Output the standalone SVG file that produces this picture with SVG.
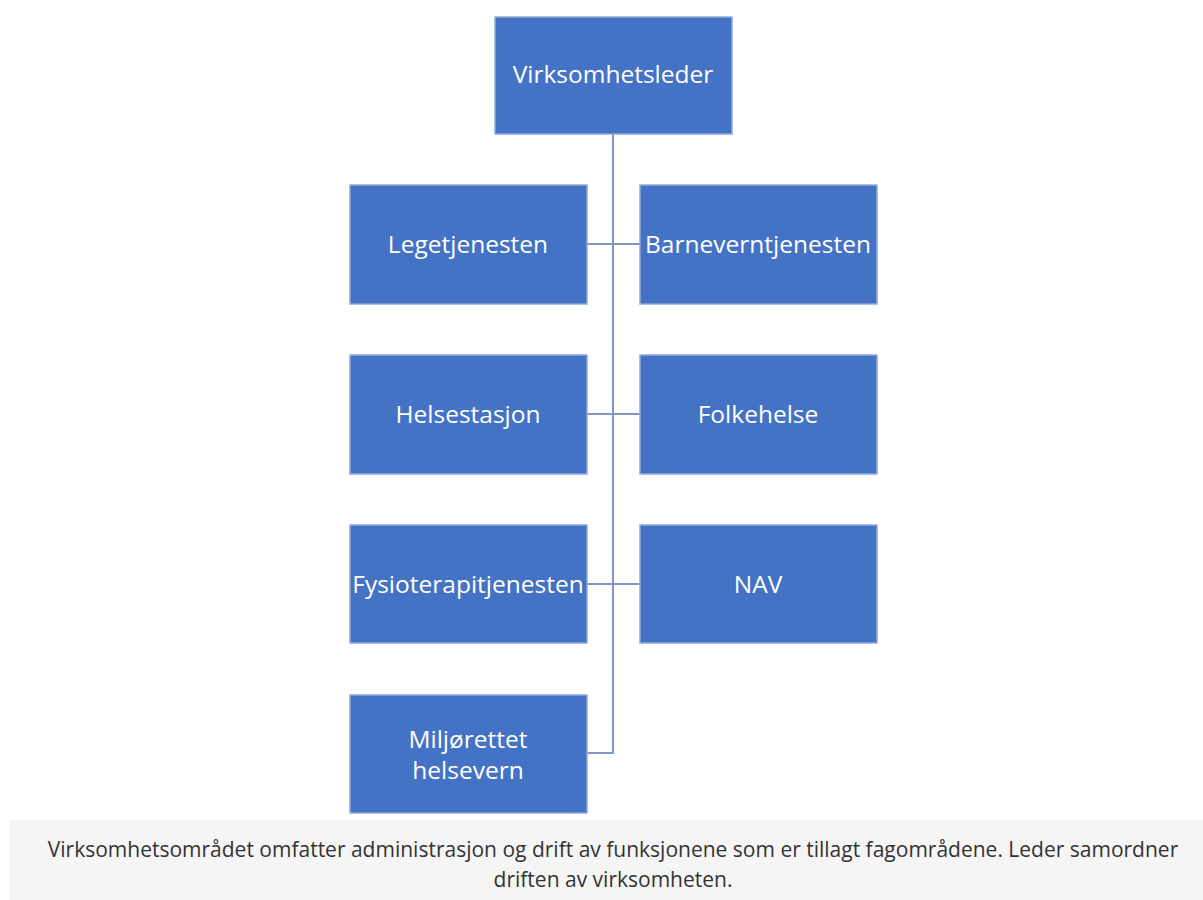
<svg xmlns="http://www.w3.org/2000/svg" width="1203" height="900" viewBox="0 0 1203 900">
<style>
.box{fill:#4472c4;stroke:#8eaadb;stroke-width:1.5}
.lbl{font-family:"Open Sans","Noto Sans",sans-serif;font-size:24.5px;fill:#ffffff;text-anchor:middle}
.con{fill:none;stroke:#8497c4;stroke-width:2}
.cap{font-family:"Open Sans","Noto Sans",sans-serif;font-size:21px;fill:#333333;text-anchor:middle}
</style>
<rect width="1203" height="900" fill="#ffffff"/>
<g id="connectors">
<path class="con" d="M613 134 V753 H587"/>
<path class="con" d="M587 244 H640"/>
<path class="con" d="M587 414 H640"/>
<path class="con" d="M587 584 H640"/>
</g>
<g id="virksomhetsleder"><rect class="box" x="495" y="17" width="237" height="117"/><text class="lbl" x="613" y="83">Virksomhetsleder</text></g>
<g id="legetjenesten"><rect class="box" x="350" y="185" width="237" height="119"/><text class="lbl" x="468" y="253">Legetjenesten</text></g>
<g id="barneverntjenesten"><rect class="box" x="640" y="185" width="237" height="119"/><text class="lbl" x="758" y="253">Barneverntjenesten</text></g>
<g id="helsestasjon"><rect class="box" x="350" y="355" width="237" height="119"/><text class="lbl" x="468" y="423">Helsestasjon</text></g>
<g id="folkehelse"><rect class="box" x="640" y="355" width="237" height="119"/><text class="lbl" x="758" y="423">Folkehelse</text></g>
<g id="fysioterapitjenesten"><rect class="box" x="350" y="525" width="237" height="118"/><text class="lbl" x="468" y="593">Fysioterapitjenesten</text></g>
<g id="nav"><rect class="box" x="640" y="525" width="237" height="118"/><text class="lbl" x="758" y="593">NAV</text></g>
<g id="miljorettet"><rect class="box" x="350" y="695" width="237" height="118"/><text class="lbl" x="468" y="748">Miljørettet</text><text class="lbl" x="468" y="779">helsevern</text></g>
<g id="caption">
<rect x="10" y="820" width="1193" height="80" fill="#f5f5f5"/>
<text class="cap" x="613" y="857">Virksomhetsområdet omfatter administrasjon og drift av funksjonene som er tillagt fagområdene. Leder samordner</text>
<text class="cap" x="613" y="887">driften av virksomheten.</text>
</g>
</svg>
